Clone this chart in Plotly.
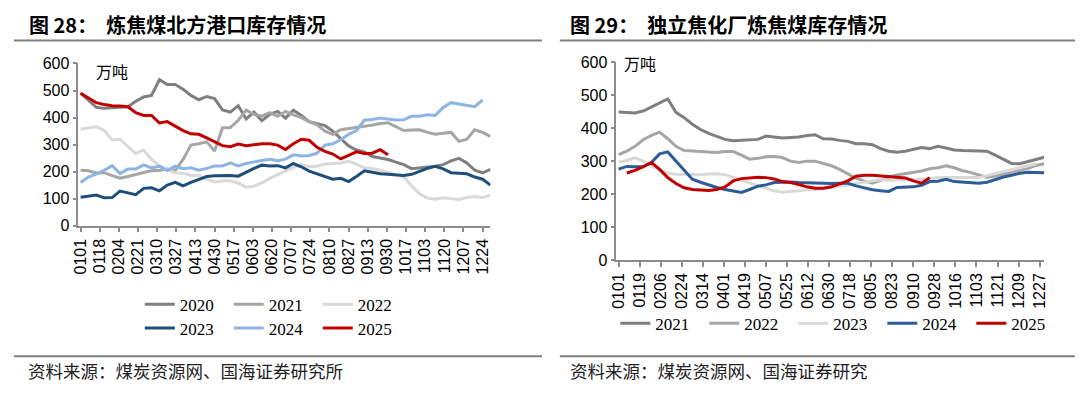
import pandas as pd
import plotly.graph_objects as go

# ---------------- data ----------------
# weekly observations, positioned on a common (non-leap) calendar year
week_dates = pd.date_range("2021-01-01", periods=53, freq="7D")

left_tick_labels = ["0101", "0118", "0204", "0221", "0310", "0327", "0413", "0430",
                    "0517", "0603", "0620", "0707", "0724", "0810", "0827", "0913",
                    "0930", "1017", "1103", "1120", "1207", "1224"]
right_tick_labels = ["0101", "0119", "0206", "0224", "0314", "0401", "0419", "0507",
                     "0525", "0612", "0630", "0718", "0805", "0823", "0910", "0928",
                     "1016", "1103", "1121", "1209", "1227"]

# 图28 炼焦煤北方港口库存（万吨）
port_2020 = [490, 465, 438, 434, 436, 438, 440, 460, 476, 482, 540, 522, 522, 505, 482, 466,
             478, 470, 428, 420, 444, 395, 420, 388, 412, 423, 398, 427, 408, 385, 378, 370,
             350, 322, 295, 280, 273, 256, 250, 245, 235, 226, 211, 214, 216, 220, 226, 240,
             249, 232, 205, 195, 208]
port_2021 = [205, 203, 195, 196, 185, 176, 182, 190, 197, 203, 205, 210, 204, 245, 298, 303,
             310, 276, 362, 363, 390, 427, 412, 405, 418, 405, 423, 410, 400, 385, 373, 350,
             338, 355, 360, 363, 368, 372, 378, 381, 365, 352, 354, 355, 345, 338, 342, 345,
             312, 320, 355, 345, 330]
port_2022 = [358, 362, 366, 352, 317, 320, 292, 267, 280, 245, 222, 207, 196, 193, 187, 186,
             172, 162, 166, 166, 158, 142, 146, 158, 175, 190, 203, 216, 227, 218, 220, 228,
             230, 232, 238, 228, 214, 212, 205, 197, 190, 180, 148, 118, 102, 98, 103, 100,
             97, 104, 108, 104, 113]
port_2023 = [105, 110, 113, 103, 104, 128, 122, 115, 138, 140, 129, 150, 160, 147, 160, 172,
             182, 185, 186, 186, 183, 198, 212, 224, 221, 222, 214, 230, 218, 202, 192, 182,
             172, 175, 163, 182, 203, 198, 192, 190, 187, 186, 190, 202, 212, 220, 210, 196,
             195, 192, 180, 172, 150]
port_2024 = [160, 180, 192, 205, 222, 193, 210, 210, 225, 214, 220, 204, 220, 211, 214, 205,
             212, 221, 221, 232, 221, 230, 236, 242, 246, 240, 246, 262, 258, 260, 268, 298,
             303, 318, 338, 352, 390, 393, 398, 395, 391, 392, 405, 405, 410, 408, 437, 455,
             450, 444, 440, 465, None]
port_2025 = [490, 472, 455, 448, 444, 443, 440, 418, 408, 408, 380, 385, 368, 352, 340, 338,
             325, 310, 296, 292, 302, 296, 300, 303, 303, 298, 282, 303, 320, 316, 290, 275,
             265, 247, 260, 273, 267, 268, 281, 262] + [None] * 13

# 图29 独立焦化厂炼焦煤库存（万吨）
coke_2021 = [449, 447, 446, 452, 465, 478, 489, 448, 432, 412, 396, 384, 374, 366, 362, 363,
             364, 366, 376, 372, 370, 372, 373, 378, 380, 368, 367, 363, 360, 353, 353, 350,
             338, 330, 327, 330, 336, 341, 338, 345, 340, 334, 332, 332, 331, 330, 318, 305,
             293, 292, 298, 306, 312]
coke_2022 = [320, 330, 345, 365, 378, 388, 368, 345, 332, 330, 329, 327, 326, 329, 329, 318,
             306, 309, 313, 314, 311, 300, 296, 300, 300, 293, 286, 275, 262, 248, 240, 233,
             242, 252, 258, 262, 265, 270, 277, 280, 286, 280, 271, 266, 258, 251, 255, 260,
             266, 272, 278, 287, 292]
coke_2023 = [297, 302, 310, 300, 285, 274, 264, 260, 259, 258, 259, 261, 262, 259, 250, 243,
             234, 226, 218, 210, 206, 207, 210, 213, 213, 216, 220, 226, 230, 233, 237, 240,
             244, 242, 243, 245, 245, 245, 246, 250, 250, 248, 248, 248, 250, 256, 262, 268,
             274, 279, 284, 292, None]
coke_2024 = [276, 284, 283, 283, 296, 322, 328, 300, 275, 245, 236, 227, 220, 214, 210, 205,
             214, 224, 228, 235, 236, 237, 235, 234, 233, 233, 232, 233, 233, 225, 219, 213,
             210, 208, 220, 222, 222, 227, 238, 239, 245, 238, 236, 234, 233, 236, 245, 252,
             257, 263, 266, 266, 265]
coke_2025 = [None, 264, 272, 283, 296, 275, 250, 232, 219, 214, 212, 211, 214, 222, 240, 247,
             249, 251, 250, 246, 238, 235, 229, 222, 218, 218, 222, 230, 240, 254, 257, 257,
             255, 253, 251, 249, 240, 233, 250] + [None] * 14

# ---------------- styling ----------------
W, H = 1080, 394
def px_x(v):
    return v / W
def px_y(v):
    return 1 - v / H

CJK = "Noto Sans CJK SC"
NUM = "Liberation Sans"
SERIF = "Liberation Serif"
AXIS_GRAY = "#8c8c8c"

left_series = [("2020", port_2020, "#7f7f7f", "legend"),
               ("2021", port_2021, "#a6a6a6", "legend"),
               ("2022", port_2022, "#d9d9d9", "legend"),
               ("2023", port_2023, "#1f4e79", "legend2"),
               ("2024", port_2024, "#8eb4e3", "legend2"),
               ("2025", port_2025, "#c00000", "legend2")]
right_series = [("2021", coke_2021, "#7f7f7f"),
                ("2022", coke_2022, "#a6a6a6"),
                ("2023", coke_2023, "#d9d9d9"),
                ("2024", coke_2024, "#2e5c97"),
                ("2025", coke_2025, "#c00000")]

fig = go.Figure()
for name, vals, color, leg in left_series:
    fig.add_trace(go.Scatter(x=week_dates, y=vals, name=name, mode="lines",
                             line=dict(color=color, width=3), xaxis="x", yaxis="y",
                             legend=leg, connectgaps=False))
for name, vals, color in right_series:
    fig.add_trace(go.Scatter(x=week_dates, y=vals, name=name, mode="lines",
                             line=dict(color=color, width=3), xaxis="x2", yaxis="y2",
                             legend="legend3", connectgaps=False))

def to_date(mmdd):
    return f"2021-{mmdd[:2]}-{mmdd[2:]}"

common_x = dict(type="date", showline=True, linecolor=AXIS_GRAY, linewidth=1.5,
                ticks="outside", ticklen=5, tickcolor=AXIS_GRAY, tickwidth=1.5,
                tickangle=-90, showgrid=False, zeroline=False,
                tickfont=dict(family=NUM, size=16, color="#000"))
common_y = dict(range=[0, 600], dtick=100, showline=True, linecolor=AXIS_GRAY,
                linewidth=1.5, ticks="outside", ticklen=4, tickcolor=AXIS_GRAY,
                tickwidth=1.5, showgrid=False, zeroline=False,
                tickfont=dict(family=NUM, size=16, color="#000"))

legend_common = dict(orientation="h", font=dict(family=SERIF, size=17, color="#000"),
                     bgcolor="rgba(0,0,0,0)", itemwidth=30, entrywidth=44,
                     xanchor="left", yanchor="middle", tracegroupgap=0)

fig.update_layout(
    width=W, height=H, margin=dict(l=0, r=0, t=0, b=0),
    paper_bgcolor="white", plot_bgcolor="white", showlegend=True,
    xaxis=dict(common_x, domain=[px_x(72), px_x(488)],
               range=["2020-12-30", "2021-12-31"],
               tickvals=[to_date(t) for t in left_tick_labels], ticktext=left_tick_labels,
               anchor="y"),
    yaxis=dict(common_y, domain=[px_y(227.5), px_y(58)], anchor="x"),
    xaxis2=dict(common_x, domain=[px_x(615), px_x(1047)],
                range=["2020-12-30", "2021-12-31"],
                tickvals=[to_date(t) for t in right_tick_labels], ticktext=right_tick_labels,
                anchor="y2"),
    yaxis2=dict(common_y, domain=[px_y(263.4), px_y(56.7)], anchor="x2"),
    legend=dict(legend_common, x=px_x(134), y=px_y(310)),
    legend2=dict(legend_common, x=px_x(134), y=px_y(335)),
    legend3=dict(legend_common, x=px_x(614), y=px_y(330)),
)

shapes = []
for x0, x1 in [(7, 540), (558, 1078)]:
    for yy in [34, 364]:
        shapes.append(dict(type="line", xref="paper", yref="paper",
                           x0=px_x(x0), x1=px_x(x1), y0=px_y(yy), y1=px_y(yy),
                           line=dict(color="#7f7f7f", width=2)))
fig.update_layout(shapes=shapes)

annotations = [
    dict(text="<b>图 28：  炼焦煤北方港口库存情况</b>", x=px_x(20), y=px_y(17),
         font=dict(family=CJK, size=20, color="#000")),
    dict(text="<b>图 29：  独立焦化厂炼焦煤库存情况</b>", x=px_x(566), y=px_y(17),
         font=dict(family=CJK, size=20, color="#000")),
    dict(text="资料来源：煤炭资源网、国海证券研究所", x=px_x(19), y=px_y(379),
         font=dict(family=CJK, size=17.5, color="#222")),
    dict(text="资料来源：煤炭资源网、国海证券研究", x=px_x(566), y=px_y(379),
         font=dict(family=CJK, size=17.5, color="#222")),
    dict(text="万吨", x=px_x(88), y=px_y(66), font=dict(family=CJK, size=16, color="#000")),
    dict(text="万吨", x=px_x(621), y=px_y(58), font=dict(family=CJK, size=16, color="#000")),
]
for a in annotations:
    a.update(xref="paper", yref="paper", xanchor="left", yanchor="middle", showarrow=False)
fig.update_layout(annotations=annotations)

# remove the browser's default 8px body margin so the figure sits at the page origin
fig.write_html("out.html", config={"displayModeBar": False},
               post_script="document.body.style.margin='0px';")
